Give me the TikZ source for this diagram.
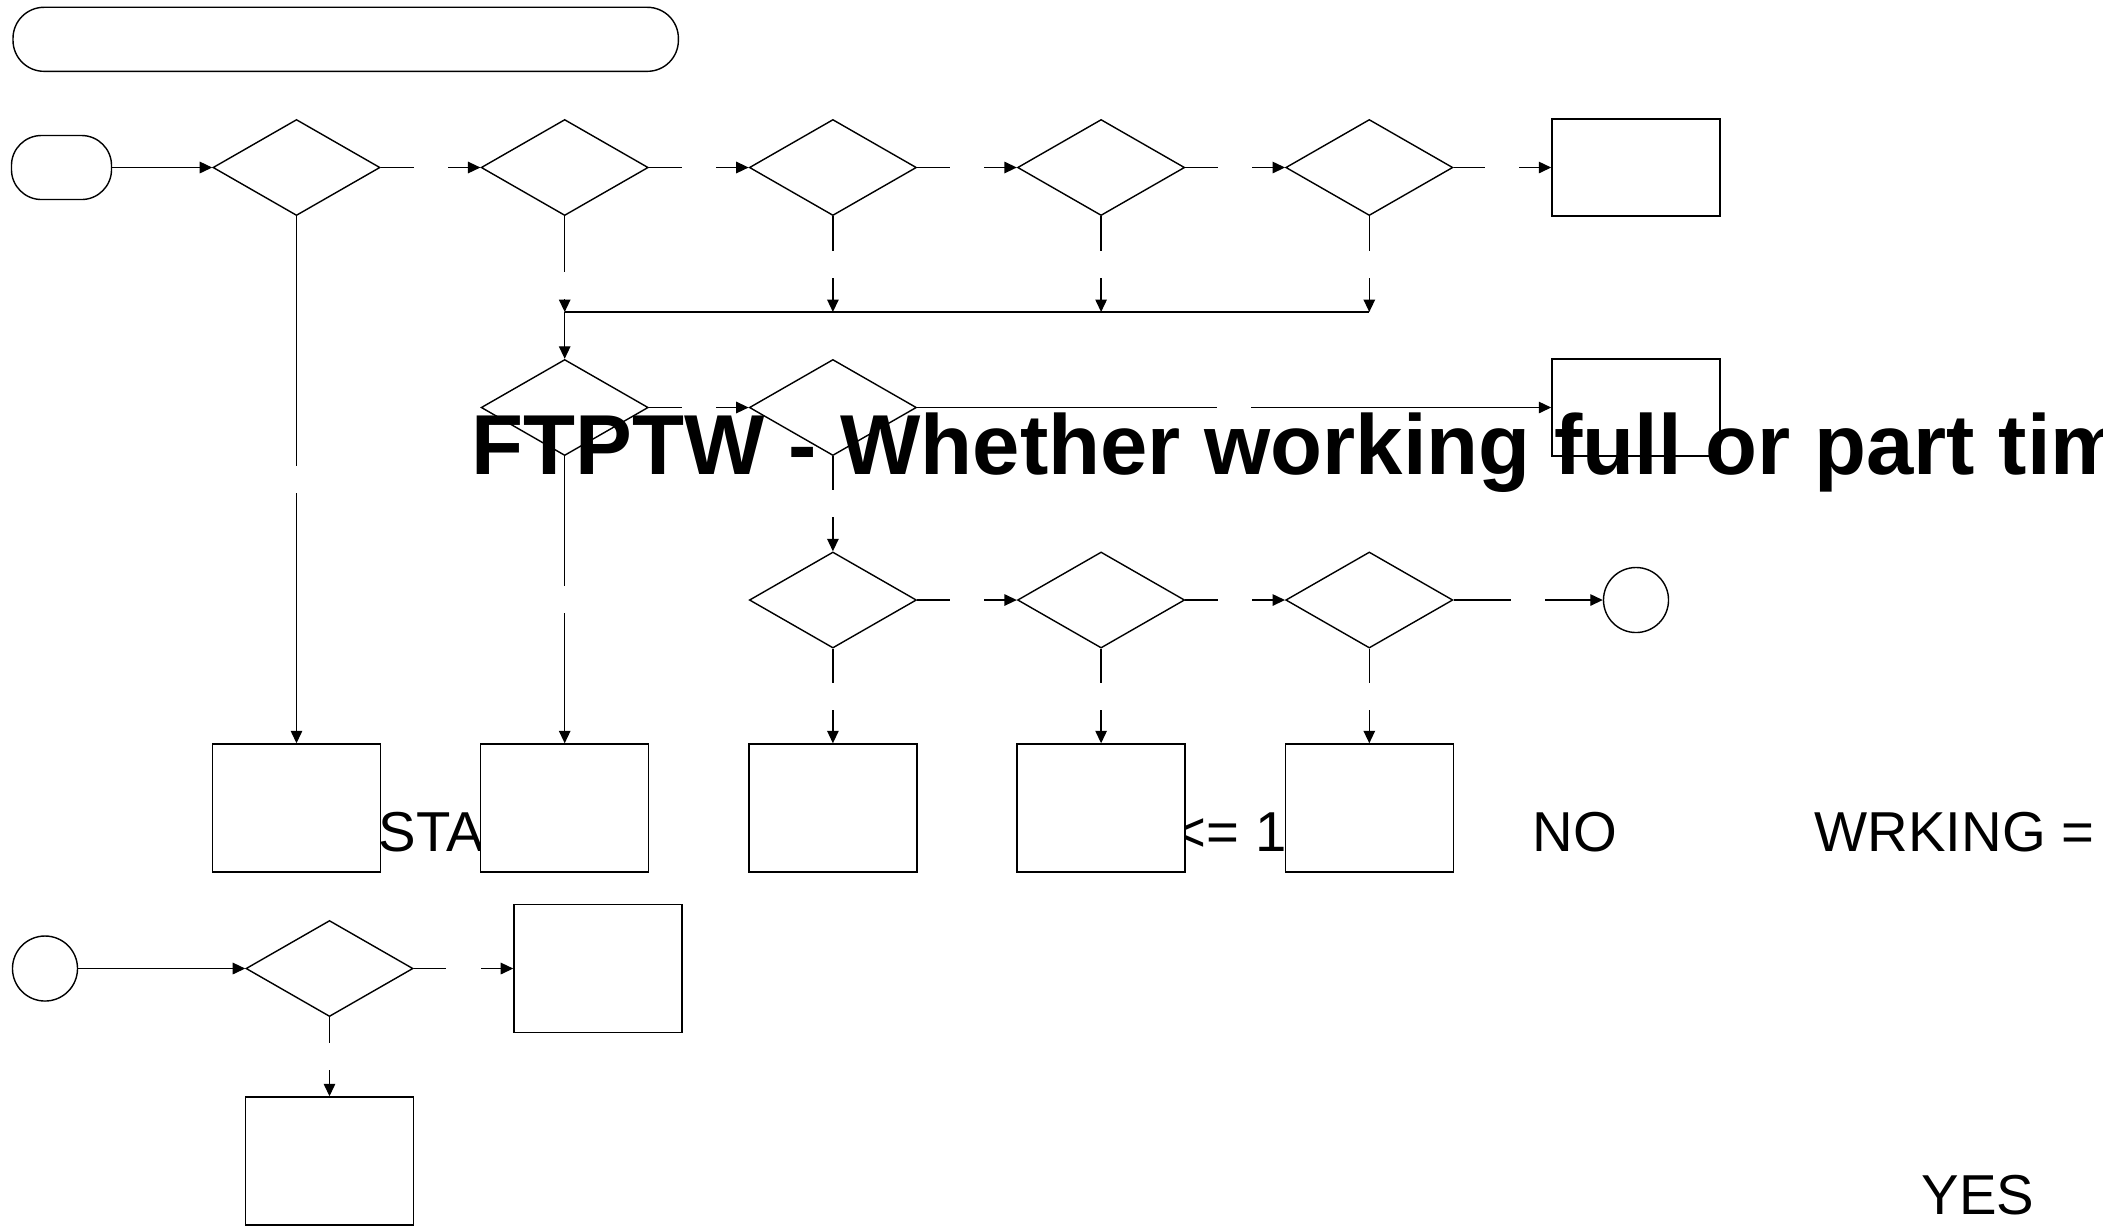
\documentclass[tikz,border=0pt]{standalone}
\usepackage{fontspec}
\setmainfont{Liberation Sans}
\usetikzlibrary{shapes.geometric,arrows.meta}
\begin{document}
\begin{tikzpicture}[x=0.01cm,y=-0.01cm,line width=0.4pt,every node/.style={inner sep=0pt},
  dec/.style={draw,fill=white,diamond,minimum width=1.67cm,minimum height=0.96cm},
  box/.style={draw,fill=white,rectangle,minimum width=1.68cm,minimum height=1.28cm},
  flatbox/.style={box,minimum height=0.97cm},
  ring/.style={draw,fill=white,circle,minimum size=0.65cm},
  gap/.style={fill=white,minimum width=0.34cm,minimum height=0.27cm},
  lbl/.style={anchor=base west,font=\fontsize{16}{19}\selectfont},
  >={Triangle[length=1.25mm,width=1.15mm]}]
  \useasboundingbox (0,0) rectangle (2103,1226);
  \node[lbl] (tsta) at (378,851) {STA};
  \node[lbl] (tle) at (1173,851) {<= 1};
  \node[lbl] (tno) at (1532,851) {NO};
  \node[lbl] (twrk) at (1814,851) {WRKING =};
  \node[lbl] (tyes) at (1921,1214) {YES};
  \node[draw,fill=white,rounded corners=0.31cm,minimum width=6.65cm,minimum height=0.64cm] (banner) at (345.7,39.3) {};
  \node[draw,fill=white,rounded corners=0.3cm,minimum width=1.0cm,minimum height=0.64cm] (start) at (61.5,167.5) {};
  \node[dec] (q1) at (296.5,167.5) {};
  \node[dec] (q2) at (564.7,167.5) {};
  \node[dec] (q3) at (832.9,167.5) {};
  \node[dec] (q4) at (1101.1,167.5) {};
  \node[dec] (q5) at (1369.3,167.5) {};
  \node[flatbox] (out1) at (1636,167.5) {};
  \node[dec] (q6) at (564.7,407.5) {};
  \node[dec] (q7) at (832.9,407.5) {};
  \node[flatbox] (out2) at (1636,407.5) {};
  \node[dec] (q8) at (832.9,600) {};
  \node[dec] (q9) at (1101.1,600) {};
  \node[dec] (q10) at (1369.3,600) {};
  \node[ring] (fin) at (1636,600) {};
  \node[box] (res1) at (296.5,808) {};
  \node[box] (res2) at (564.7,808) {};
  \node[box] (res3) at (832.9,808) {};
  \node[box] (res4) at (1101.1,808) {};
  \node[box] (res5) at (1369.3,808) {};
  \node[ring] (ent) at (45,968.5) {};
  \node[dec] (q11) at (329.5,968.5) {};
  \node[box] (res6) at (598,968.5) {};
  \node[box] (res7) at (329.5,1161) {};
  \coordinate (bus) at (564.7,312);
  \draw[->] (start) -- (q1);
  \draw[->] (q1) -- node[gap] {} (q2); \draw[->] (q2) -- node[gap] {} (q3);
  \draw[->] (q3) -- node[gap] {} (q4); \draw[->] (q4) -- node[gap] {} (q5);
  \draw[->] (q5) -- node[gap] {} (out1);
  \draw[->] (q1) -- node[gap] {} (res1);
  \draw[->] (q2) -- node[gap,pos=0.72] {} (bus);
  \draw[->] (q3) -- node[gap] {} (q3 |- bus); \draw[->] (q4) -- node[gap] {} (q4 |- bus);
  \draw[->] (q5) -- node[gap] {} (q5 |- bus);
  \draw (bus) -- (q5 |- bus); \draw[->] (bus) -- (q6);
  \draw[->] (q6) -- node[gap] {} (q7); \draw[->] (q7) -- node[gap] {} (out2);
  \draw[->] (q6) -- node[gap] {} (res2); \draw[->] (q7) -- node[gap] {} (q8);
  \draw[->] (q8) -- node[gap] {} (q9); \draw[->] (q9) -- node[gap] {} (q10);
  \draw[->] (q10) -- node[gap] {} (fin);
  \draw[->] (q8) -- node[gap] {} (res3); \draw[->] (q9) -- node[gap] {} (res4);
  \draw[->] (q10) -- node[gap] {} (res5);
  \draw[->] (ent) -- (q11);
  \draw[->] (q11) -- node[gap] {} (res6); \draw[->] (q11) -- node[gap] {} (res7);
  \node[anchor=base west,font=\fontsize{24.2}{29}\selectfont\bfseries] (title) at (471,474) {FTPTW - Whether working full or part tim};
\end{tikzpicture}
\end{document}
